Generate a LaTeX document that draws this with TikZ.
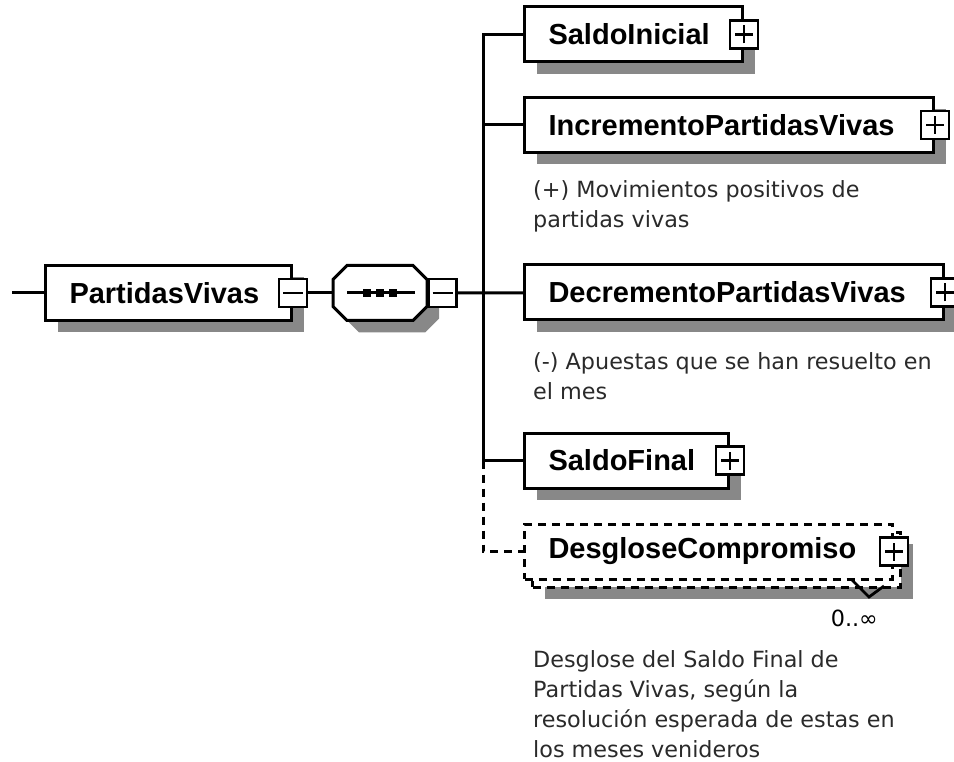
\documentclass[tikz,border=0pt]{standalone}
\usepackage{fontspec}
\usetikzlibrary{shadows}
\newfontfamily\namefont{Liberation Sans}
\newfontfamily\docfont{DejaVu Sans}
\definecolor{shade}{HTML}{888888}
\definecolor{doctext}{HTML}{2a2a2a}
\tikzstyle{box}=[draw, fill=white, line width=3pt, anchor=west, minimum height=55pt, inner xsep=24pt, inner ysep=0pt, align=left, font=\namefont\bfseries\fontsize{29}{34}\selectfont]
\tikzstyle{elem}=[box, drop shadow={shadow xshift=12pt, shadow yshift=-12pt, fill=shade, opacity=1}]
\tikzstyle{opt}=[box, dash pattern=on 8pt off 6pt]
\tikzstyle{pbox}=[draw, fill=white, line width=2.8pt, minimum size=28pt, inner sep=0pt]
\tikzstyle{plus}=[pbox, path picture={\draw[line width=2.6pt] ([xshift=-9pt]path picture bounding box.center) -- ([xshift=9pt]path picture bounding box.center) ([yshift=-9pt]path picture bounding box.center) -- ([yshift=9pt]path picture bounding box.center);}]
\tikzstyle{minus}=[pbox, path picture={\draw[line width=2.6pt] ([xshift=-10pt]path picture bounding box.center) -- ([xshift=10pt]path picture bounding box.center);}]
\tikzstyle{seqbox}=[minimum width=94pt, minimum height=55pt, inner sep=0pt]
\tikzstyle{dotsq}=[fill=black, minimum size=8pt, inner sep=0pt]
\tikzstyle{doc}=[anchor=north west, inner sep=0pt, align=left, text=doctext, font=\docfont\fontsize{22.3}{30}\selectfont]
\tikzstyle{conn}=[line width=3pt]
\begin{document}
\begin{tikzpicture}[x=1pt, y=-1pt]
\useasboundingbox (0,0) rectangle (954,762);

% root and sequence
\coordinate (start) at (12,293);
\node[elem, text width=198pt] (pv) at (44,293) {PartidasVivas};
\node[minus] (pvm) at (pv.east) {};
\node[seqbox] (seq) at (380,293) {};
\foreach \s/\c/\d in {12/shade/none, 0/white/black}
  \path[conn, fill=\c, draw=\d, shift={(seq.center)}, shift={(\s,\s)}]
    (-33,-27.5) -- (33,-27.5) -- (47,-13.5) -- (47,13.5) -- (33,27.5)
    -- (-33,27.5) -- (-47,13.5) -- (-47,-13.5) -- cycle;
\node[minus, anchor=west] (seqm) at (seq.east) {};
\draw[conn] ([xshift=-33pt]seq.center) -- ([xshift=35pt]seq.center);
\foreach \dx [count=\i] in {-13,0,13}
  \node[dotsq] (dot\i) at ([xshift=\dx pt]seq.center) {};

% children
\coordinate (bus) at (483,0);
\node[elem, text width=170pt] (si) at (523,34.5) {SaldoInicial};
\node[plus] (sim) at (si.east) {};
\node[elem, text width=361pt] (inc) at (523,125) {IncrementoPartidasVivas};
\node[plus] (incm) at (inc.east) {};
\node[doc] (incdoc) at (533,180) {(+) Movimientos positivos de\\partidas vivas};
\node[elem, text width=371pt] (dec) at (523,292.5) {DecrementoPartidasVivas};
\node[plus] (decm) at (dec.east) {};
\node[doc] (decdoc) at (533,352) {(-) Apuestas que se han resuelto en\\el mes};
\node[elem, text width=156pt] (sf) at (523,460.5) {SaldoFinal};
\node[plus] (sfm) at (sf.east) {};
\node[opt, text width=320pt, drop shadow={shadow xshift=12pt, shadow yshift=-12pt, fill=shade, opacity=1}] (desb) at (531,559.5) {};
\node[opt, text width=320pt] (des) at (523,551.5) {DesgloseCompromiso};
\node[plus] (desm) at (des.east) {};
\draw[line width=2.8pt] (852,580) -- (869,597) -- (884,586);
\node[anchor=base east, inner sep=0pt, font=\docfont\fontsize{22.3}{30}\selectfont] (occ) at (878,626) {0..∞};
\node[doc] (desdoc) at (533,650) {Desglose del Saldo Final de\\Partidas Vivas, según la\\resolución esperada de estas en\\los meses venideros};

% connectors
\draw[conn] (start) -- (pv);
\draw[conn] (pvm) -- (seq.west);
\draw[conn] (seqm) -- (dec);
\draw[conn] (si.west) -- (si.west -| bus) -- (sf.west -| bus) -- (sf.west);
\draw[conn] (inc.west) -- (inc.west -| bus);
\draw[conn, dash pattern=on 8pt off 6pt] (sf.west -| bus) |- (des.west);

\end{tikzpicture}
\end{document}
